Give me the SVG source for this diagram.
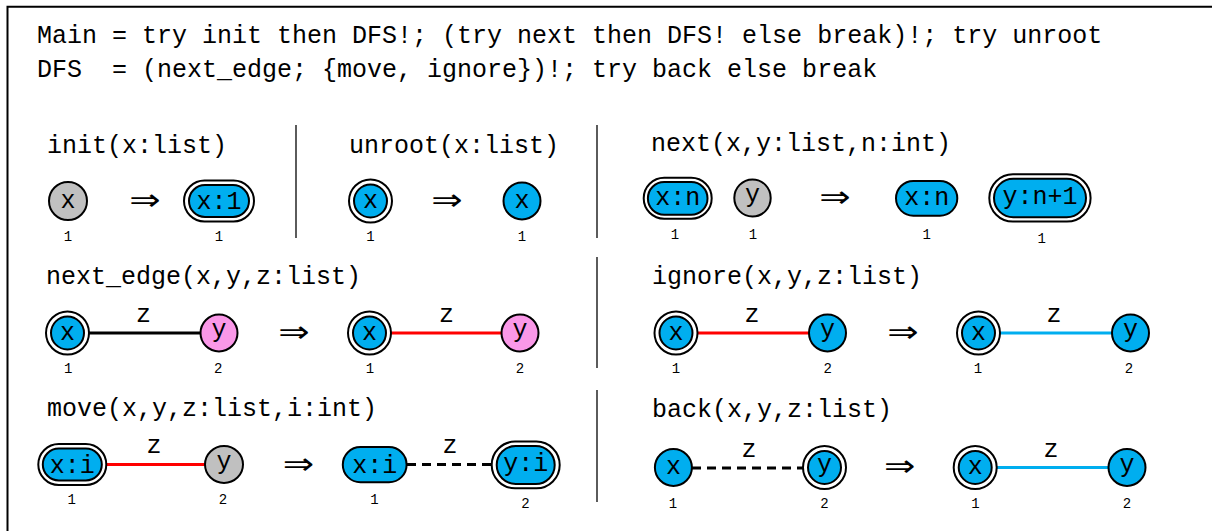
<svg xmlns="http://www.w3.org/2000/svg" width="1212" height="531" viewBox="0 0 1212 531">
<style>
.t{font-family:"Liberation Mono","DejaVu Sans Mono",monospace;font-size:25px;fill:#000}
.lb{font-family:"Liberation Mono","DejaVu Sans Mono",monospace;font-size:25px;fill:#000;text-anchor:middle}
.ix{font-family:"Liberation Mono","DejaVu Sans Mono",monospace;font-size:14px;fill:#000;text-anchor:middle}
.ar{font-family:"DejaVu Sans",sans-serif;font-size:30px;fill:#000;text-anchor:middle}
.w{fill:#fff;stroke:#000;stroke-width:2}
.b{fill:#00AEEF;stroke:#000;stroke-width:2}
.g{fill:#C0C0C0;stroke:#000;stroke-width:2}
.p{fill:#FA98E8;stroke:#000;stroke-width:2}
.sep{stroke:#333;stroke-width:1.6;fill:none}
.ek{stroke:#000;stroke-width:3;fill:none}
.er{stroke:#FF0000;stroke-width:3;fill:none}
.ec{stroke:#00AEEF;stroke-width:3;fill:none}
.ed{stroke:#000;stroke-width:3;fill:none;stroke-dasharray:9 6}
</style>
<rect x="0" y="0" width="1212" height="531" fill="#fff"/>
<path d="M7.5,531 V6.7 H1212" fill="none" stroke="#000" stroke-width="2"/>
<g id="program">
<text class="t" x="37" y="42.5">Main = try init then DFS!; (try next then DFS! else break)!; try unroot</text>
<text class="t" x="37" y="77" xml:space="preserve">DFS  = (next_edge; {move, ignore})!; try back else break</text>
</g>
<g id="separators">
<line class="sep" x1="296" y1="125" x2="296" y2="238"/>
<line class="sep" x1="597" y1="125" x2="597" y2="238"/>
<line class="sep" x1="597" y1="257" x2="597" y2="368"/>
<line class="sep" x1="597" y1="390" x2="597" y2="502"/>
</g>
<g id="titles">
<text class="t" x="47" y="153">init(x:list)</text>
<text class="t" x="349" y="153">unroot(x:list)</text>
<text class="t" x="651" y="151">next(x,y:list,n:int)</text>
<text class="t" x="46" y="284">next_edge(x,y,z:list)</text>
<text class="t" x="652" y="284">ignore(x,y,z:list)</text>
<text class="t" x="47" y="416">move(x,y,z:list,i:int)</text>
<text class="t" x="652" y="417">back(x,y,z:list)</text>
</g>
<g id="arrows">
<text class="ar" transform="translate(145 210) scale(1.25 1)">⇒</text>
<text class="ar" transform="translate(447 210) scale(1.25 1)">⇒</text>
<text class="ar" transform="translate(835 207) scale(1.25 1)">⇒</text>
<text class="ar" transform="translate(294 342) scale(1.25 1)">⇒</text>
<text class="ar" transform="translate(903 342) scale(1.25 1)">⇒</text>
<text class="ar" transform="translate(298.5 473.5) scale(1.25 1)">⇒</text>
<text class="ar" transform="translate(899.6 476) scale(1.25 1)">⇒</text>
</g>
<g id="connectors">
<line class="ek" x1="89" y1="333" x2="201" y2="333"/>
<line class="er" x1="391" y1="333" x2="502" y2="333"/>
<line class="er" x1="697.5" y1="333" x2="809.5" y2="333"/>
<line class="ec" x1="1000" y1="333" x2="1112" y2="333"/>
<line class="er" x1="106.5" y1="464.5" x2="205.5" y2="464.5"/>
<line class="ed" x1="407" y1="464.5" x2="491" y2="464.5"/>
<line class="ed" x1="692" y1="468" x2="803" y2="468"/>
<line class="ec" x1="997" y1="467.5" x2="1109" y2="467.5"/>
<text class="lb" x="143.5" y="321.5">z</text>
<text class="lb" x="446.5" y="321.5">z</text>
<text class="lb" x="752" y="321.5">z</text>
<text class="lb" x="1054" y="321.5">z</text>
<text class="lb" x="154" y="453">z</text>
<text class="lb" x="450" y="453">z</text>
<text class="lb" x="749" y="456.5">z</text>
<text class="lb" x="1051" y="456.5">z</text>
</g>
<g id="init-l-x"><circle class="g" cx="68" cy="201" r="19"/><text class="lb" x="68" y="207.6">x</text><text class="ix" x="68" y="241">1</text></g>
<g id="init-r-x"><rect class="w" x="184" y="180.5" width="70" height="41" rx="20.5"/><rect class="b" x="189" y="185" width="60" height="32" rx="16"/><text class="lb" x="219" y="209">x:1</text><text class="ix" x="219" y="241">1</text></g>
<g id="unroot-l-x"><circle class="w" cx="370.5" cy="201" r="21.5"/><circle class="b" cx="370.5" cy="201" r="16.5"/><text class="lb" x="370.5" y="207.6">x</text><text class="ix" x="370.5" y="241">1</text></g>
<g id="unroot-r-x"><circle class="b" cx="522" cy="201" r="18.5"/><text class="lb" x="522" y="207.6">x</text><text class="ix" x="522" y="241">1</text></g>
<g id="next-l-x"><rect class="w" x="643.7" y="177.8" width="68" height="41" rx="20.5"/><rect class="b" x="647.9" y="182" width="59.6" height="32.7" rx="16.3"/><text class="lb" x="677.7" y="205">x:n</text><text class="ix" x="675" y="239">1</text></g>
<g id="next-l-y"><ellipse class="g" cx="752.5" cy="198" rx="18.2" ry="18.5"/><text class="lb" x="752.5" y="202">y</text><text class="ix" x="753" y="239">1</text></g>
<g id="next-r-x"><rect class="b" x="896" y="181" width="61.3" height="34.7" rx="17.35"/><text class="lb" x="926.7" y="205">x:n</text><text class="ix" x="926.7" y="239">1</text></g>
<g id="next-r-y"><rect class="w" x="989.3" y="174.3" width="101.3" height="47.3" rx="23.65"/><rect class="b" x="994" y="178.7" width="92" height="38.6" rx="19.3"/><text class="lb" x="1040" y="204">y:n+1</text><text class="ix" x="1041.7" y="242.5">1</text></g>
<g id="nextedge-l-x"><circle class="w" cx="67.5" cy="333" r="21.5"/><circle class="b" cx="67.5" cy="333" r="16.5"/><text class="lb" x="67.5" y="339.6">x</text><text class="ix" x="68.3" y="373">1</text></g>
<g id="nextedge-l-y"><circle class="p" cx="219" cy="333" r="18.5"/><text class="lb" x="219" y="337">y</text><text class="ix" x="218.3" y="373">2</text></g>
<g id="nextedge-r-x"><circle class="w" cx="369.5" cy="333" r="21.5"/><circle class="b" cx="369.5" cy="333" r="16.5"/><text class="lb" x="369.5" y="339.6">x</text><text class="ix" x="370" y="373">1</text></g>
<g id="nextedge-r-y"><circle class="p" cx="520" cy="333" r="18.5"/><text class="lb" x="520" y="337">y</text><text class="ix" x="520" y="373">2</text></g>
<g id="ignore-l-x"><circle class="w" cx="676" cy="333" r="21.5"/><circle class="b" cx="676" cy="333" r="16.5"/><text class="lb" x="676" y="339.6">x</text><text class="ix" x="676" y="373">1</text></g>
<g id="ignore-l-y"><circle class="b" cx="827.5" cy="333" r="18.5"/><text class="lb" x="827.5" y="337">y</text><text class="ix" x="827.6" y="373">2</text></g>
<g id="ignore-r-x"><circle class="w" cx="978.5" cy="333" r="21.5"/><circle class="b" cx="978.5" cy="333" r="16.5"/><text class="lb" x="978.5" y="339.6">x</text><text class="ix" x="978" y="373">1</text></g>
<g id="ignore-r-y"><circle class="b" cx="1130.5" cy="333" r="18.5"/><text class="lb" x="1130.5" y="337">y</text><text class="ix" x="1129" y="373">2</text></g>
<g id="move-l-x"><rect class="w" x="38.3" y="444" width="68" height="41" rx="20.5"/><rect class="b" x="42.8" y="448.5" width="59" height="32" rx="16"/><text class="lb" x="72.3" y="473">x:i</text><text class="ix" x="71.6" y="504">1</text></g>
<g id="move-l-y"><ellipse class="g" cx="224" cy="464.5" rx="19" ry="18.5"/><text class="lb" x="224" y="468.5">y</text><text class="ix" x="223" y="504">2</text></g>
<g id="move-r-x"><rect class="b" x="342.8" y="447" width="63.8" height="35.3" rx="17.65"/><text class="lb" x="374.7" y="473">x:i</text><text class="ix" x="374.5" y="504">1</text></g>
<g id="move-r-y"><rect class="w" x="491.7" y="441.6" width="68" height="46.7" rx="23.35"/><rect class="b" x="496.7" y="446" width="58" height="38" rx="19"/><text class="lb" x="525.7" y="471">y:i</text><text class="ix" x="525.5" y="507.5">2</text></g>
<g id="back-l-x"><circle class="b" cx="673.4" cy="467.5" r="18.5"/><text class="lb" x="673.4" y="474.1">x</text><text class="ix" x="673" y="507.5">1</text></g>
<g id="back-l-y"><circle class="w" cx="824.5" cy="467.5" r="21.5"/><circle class="b" cx="824.5" cy="467.5" r="16.5"/><text class="lb" x="824.5" y="471.5">y</text><text class="ix" x="824.4" y="507.5">2</text></g>
<g id="back-r-x"><circle class="w" cx="975.2" cy="467.5" r="21.5"/><circle class="b" cx="975.2" cy="467.5" r="16.5"/><text class="lb" x="975.2" y="474.1">x</text><text class="ix" x="975.5" y="507.5">1</text></g>
<g id="back-r-y"><circle class="b" cx="1127" cy="467.5" r="18.5"/><text class="lb" x="1127" y="471.5">y</text><text class="ix" x="1127" y="507.5">2</text></g>
</svg>
